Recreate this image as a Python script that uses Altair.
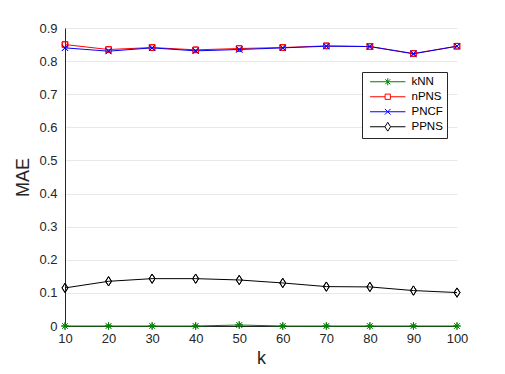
import altair as alt
import pandas as pd

k_values = [10, 20, 30, 40, 50, 60, 70, 80, 90, 100]
series_names = ["kNN", "nPNS", "PNCF", "PPNS"]
knn = [0.0, 0.0, 0.0, 0.0, 0.003, 0.0, 0.0, 0.0, 0.0, 0.0]
npns = [0.850, 0.835, 0.841, 0.834, 0.838, 0.841, 0.846, 0.844, 0.823, 0.845]
pncf = [0.840, 0.830, 0.840, 0.831, 0.835, 0.840, 0.845, 0.844, 0.822, 0.845]
ppns = [0.115, 0.135, 0.143, 0.143, 0.139, 0.130, 0.119, 0.118, 0.107, 0.101]
y_ticks = [0, 0.1, 0.2, 0.3, 0.4, 0.5, 0.6, 0.7, 0.8, 0.9]

colors = ["#008000", "#ff0000", "#0000ff", "#000000"]
marker_paths = [
    "M0,-1V1M-1,0H1M-0.7,-0.7L0.7,0.7M-0.7,0.7L0.7,-0.7",
    "M-0.75,-0.75H0.75V0.75H-0.75Z",
    "M-0.8,-0.8L0.8,0.8M-0.8,0.8L0.8,-0.8",
    "M0,-1.25L0.8,0L0,1.25L-0.8,0Z",
]
legend_paths = [
    "M-5,0H5M0,-1V1M-0.7,-0.7L0.7,0.7M-0.7,0.7L0.7,-0.7",
    "M-5,0H-0.75M0.75,0H5M-0.75,-0.75H0.75V0.75H-0.75Z",
    "M-5,0H5M-0.8,-0.8L0.8,0.8M-0.8,0.8L0.8,-0.8",
    "M-5,0H-0.8M0.8,0H5M0,-1.25L0.8,0L0,1.25L-0.8,0Z",
]
legend_keys = [n + "_L" for n in series_names]

rows = []
for name, vals in zip(series_names, [knn, npns, pncf, ppns]):
    for k, v in zip(k_values, vals):
        rows.append({"k": k, "MAE": v, "series": name})
df = pd.DataFrame(rows)

FONT = "Liberation Sans"

all_domain = series_names + legend_keys
color_scale = alt.Scale(domain=all_domain, range=colors + colors)
shape_scale = alt.Scale(domain=all_domain, range=marker_paths + legend_paths)

x_enc = alt.X("k:Q", scale=alt.Scale(domain=[10, 100], nice=False),
              axis=alt.Axis(values=k_values, title="k", grid=False, ticks=False,
                            labelFlush=False, labelPadding=6, titlePadding=4,
                            titleFontSize=18, titleFontWeight="normal"))
y_enc = alt.Y("MAE:Q", scale=alt.Scale(domain=[0, 0.9], nice=False),
              axis=alt.Axis(values=y_ticks, title="MAE", grid=True, ticks=False,
                            labelFlush=False, labelPadding=8, titlePadding=6,
                            titleFontSize=18, titleFontWeight="normal",
                            labelExpr="datum.value == 0 ? '0' : format(datum.value, '.1f')"))

leg = alt.Legend(orient="none", legendX=297, legendY=44, values=legend_keys,
                 labelExpr="replace(datum.label, '_L', '')")

base = alt.Chart(df)
lines = base.mark_line(strokeWidth=1).encode(
    x=x_enc, y=y_enc,
    color=alt.Color("series:N", scale=color_scale, legend=None),
    detail="series:N",
)
points = base.mark_point(filled=False, size=55, strokeWidth=1, opacity=1).encode(
    x=x_enc, y=y_enc,
    color=alt.Color("series:N", scale=color_scale, title=None, legend=leg),
    shape=alt.Shape("series:N", scale=shape_scale, title=None, legend=leg),
)

chart = alt.layer(points, lines, points).properties(
    width=392, height=298,
    autosize=alt.AutoSizeParams(type="none"),
    padding={"left": 57, "top": 20, "right": 40, "bottom": 40},
).configure_view(stroke=None).configure_axis(
    labelFont=FONT, titleFont=FONT, labelFontSize=13, labelColor="#262626",
    titleColor="#262626", domainColor="#262626", gridColor="#e8e8e8", domainWidth=1,
).configure_legend(
    labelFont=FONT, labelFontSize=11.5, labelColor="#000000",
    fillColor="white", strokeColor="#262626", padding=4,
    symbolSize=50, symbolOffset=16, labelOffset=18, rowPadding=2, symbolStrokeWidth=1,
)

chart.save("out.html", embed_options={"renderer": "svg", "actions": False})
